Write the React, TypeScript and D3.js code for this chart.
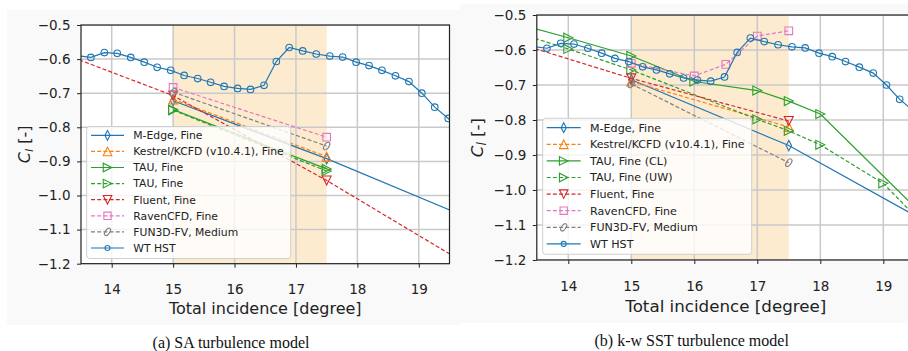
import { useRef, useEffect } from 'react';
import * as d3 from 'd3';

// wind tunnel (same measurement on both panels)
const wtAlpha = [13.38, 13.66, 13.88, 14.09, 14.31, 14.53, 14.74, 14.96, 15.18, 15.4, 15.61, 15.83, 16.05, 16.26, 16.48, 16.68, 16.89, 17.11, 17.33, 17.55, 17.76, 17.98, 18.19, 18.4, 18.62, 18.84, 19.05, 19.26, 19.48, 19.7];
const wtCl = [-0.589, -0.595, -0.581, -0.583, -0.595, -0.609, -0.624, -0.633, -0.648, -0.657, -0.668, -0.68, -0.686, -0.689, -0.677, -0.607, -0.566, -0.576, -0.585, -0.591, -0.594, -0.609, -0.619, -0.633, -0.649, -0.666, -0.7, -0.741, -0.774, -0.81];

const twoAlpha = [15, 17.5];
const threeAlpha = [15, 17.5, 20];

// (a) SA
const saMEdge = [-0.722, -0.892, -1.08];
const saKestrel = [-0.718, -0.886];
const saTau = [-0.748, -0.922];
const saTauB = [-0.75, -0.928];
const saFluentAlpha = [13, 15, 17.5, 20];
const saFluent = [-0.57, -0.707, -0.956, -1.225];
const saRaven = [-0.683, -0.829];
const saFun3d = [-0.697, -0.855];

// (b) k-w SST
const sstMEdge = [-0.685, -0.873, -1.123];
const sstKestrel = [-0.69, -0.82];
const sstTauClAlpha = [13, 14, 15, 16, 17, 17.5, 18, 20];
const sstTauCl = [-0.515, -0.565, -0.617, -0.69, -0.716, -0.746, -0.783, -1.137];
const sstTauUwAlpha = [13, 14, 15, 17, 17.5, 18, 19, 20];
const sstTauUw = [-0.54, -0.597, -0.657, -0.798, -0.831, -0.871, -0.981, -1.166];
const sstFluentAlpha = [13, 15, 17.5];
const sstFluent = [-0.57, -0.681, -0.803];
const sstRavenAlpha = [15, 16, 16.5, 17, 17.5];
const sstRaven = [-0.638, -0.674, -0.641, -0.56, -0.545];
const sstFun3d = [-0.697, -0.922];

const xTicks = [14, 15, 16, 17, 18, 19];
const yTicks = [-1.2, -1.1, -1.0, -0.9, -0.8, -0.7, -0.6, -0.5];

const C = { blue: '#1f77b4', orange: '#ff7f0e', green: '#2ca02c', red: '#d62728', pink: '#e377c2', gray: '#7f7f7f' };
const DASH = '4,2.2';

const zip = (xs, ys) => xs.map((a, i) => ({ a, cl: ys[i] }));

const saSeries = [
  { label: 'M-Edge, Fine', color: C.blue, dash: null, mk: 'd', data: zip(threeAlpha, saMEdge) },
  { label: 'Kestrel/KCFD (v10.4.1), Fine', color: C.orange, dash: DASH, mk: '^', data: zip(twoAlpha, saKestrel) },
  { label: 'TAU, Fine', color: C.green, dash: null, mk: '>', data: zip(twoAlpha, saTau) },
  { label: 'TAU, Fine', color: C.green, dash: DASH, mk: '>', data: zip(twoAlpha, saTauB) },
  { label: 'Fluent, Fine', color: C.red, dash: DASH, mk: 'v', data: zip(saFluentAlpha, saFluent) },
  { label: 'RavenCFD, Fine', color: C.pink, dash: DASH, mk: 's', data: zip(twoAlpha, saRaven) },
  { label: 'FUN3D-FV, Medium', color: C.gray, dash: DASH, mk: 'f', data: zip(twoAlpha, saFun3d) },
  { label: 'WT HST', color: C.blue, dash: null, mk: 'o', data: zip(wtAlpha, wtCl) },
];

const sstSeries = [
  { label: 'M-Edge, Fine', color: C.blue, dash: null, mk: 'd', data: zip(threeAlpha, sstMEdge) },
  { label: 'Kestrel/KCFD (v10.4.1), Fine', color: C.orange, dash: DASH, mk: '^', data: zip(twoAlpha, sstKestrel) },
  { label: 'TAU, Fine (CL)', color: C.green, dash: null, mk: '>', data: zip(sstTauClAlpha, sstTauCl) },
  { label: 'TAU, Fine (UW)', color: C.green, dash: DASH, mk: '>', data: zip(sstTauUwAlpha, sstTauUw) },
  { label: 'Fluent, Fine', color: C.red, dash: DASH, mk: 'v', data: zip(sstFluentAlpha, sstFluent) },
  { label: 'RavenCFD, Fine', color: C.pink, dash: DASH, mk: 's', data: zip(sstRavenAlpha, sstRaven) },
  { label: 'FUN3D-FV, Medium', color: C.gray, dash: DASH, mk: 'f', data: zip(twoAlpha, sstFun3d) },
  { label: 'WT HST', color: C.blue, dash: null, mk: 'o', data: zip(wtAlpha, wtCl) },
];

function markerPath(kind, s = 1) {
  const r = 4.5 * s;
  switch (kind) {
    case 'd': return `M0,${-r * 1.15}L${r * 0.6},0L0,${r * 1.15}L${-r * 0.6},0Z`;
    case '^': return `M0,${-r}L${r},${r}L${-r},${r}Z`;
    case 'v': return `M0,${r}L${r},${-r}L${-r},${-r}Z`;
    case '>': return `M${r},0L${-r},${-r}L${-r},${r}Z`;
    case 's': return `M${-r * 0.85},${-r * 0.85}h${r * 1.7}v${r * 1.7}h${-r * 1.7}Z`;
    default: return '';
  }
}

function addMarker(sel, kind, color, cx, cy, s = 1) {
  if (kind === 'o') {
    sel.append('circle').attr('cx', cx).attr('cy', cy).attr('r', 3.3 * s)
      .attr('fill', 'none').attr('stroke', color).attr('stroke-width', 1.1);
  } else if (kind === 'f') {
    sel.append('ellipse').attr('rx', 2.3 * s).attr('ry', 4.4 * s)
      .attr('transform', `translate(${cx},${cy}) rotate(35)`)
      .attr('fill', 'none').attr('stroke', color).attr('stroke-width', 1.1);
  } else {
    sel.append('path').attr('d', markerPath(kind, s)).attr('transform', `translate(${cx},${cy})`)
      .attr('fill', 'none').attr('stroke', color).attr('stroke-width', 1.1);
  }
}

const fmt = v => (v < 0 ? '\u2212' : '') + Math.abs(v).toFixed(1);

function drawPanel(svg, p) {
  const x = d3.scaleLinear().domain([13.5, 19.5]).range([p.left, p.right]);
  const y = d3.scaleLinear().domain([-1.2, -0.5]).range([p.bottom, p.top]);
  const iw = p.right - p.left;
  const ih = p.bottom - p.top;

  svg.append('rect').attr('x', p.bg[0]).attr('y', p.bg[1]).attr('width', p.bg[2]).attr('height', p.bg[3]).attr('fill', '#f9f9f9');
  svg.append('rect').attr('x', p.left).attr('y', p.top).attr('width', iw).attr('height', ih).attr('fill', '#fff');

  const clipId = 'clip-' + p.id;
  svg.append('clipPath').attr('id', clipId)
    .append('rect').attr('x', p.left).attr('y', p.top).attr('width', iw).attr('height', ih);
  const plot = svg.append('g').attr('clip-path', `url(#${clipId})`);

  // shaded band 15..17.5
  plot.append('rect').attr('x', x(15)).attr('y', p.top).attr('width', x(17.5) - x(15)).attr('height', ih)
    .attr('fill', '#fdebcf');

  // grid
  xTicks.forEach(t => plot.append('line').attr('x1', x(t)).attr('x2', x(t)).attr('y1', p.top).attr('y2', p.bottom)
    .attr('stroke', '#c9c9c9').attr('stroke-width', 1.5));
  yTicks.forEach(t => plot.append('line').attr('x1', p.left).attr('x2', p.right).attr('y1', y(t)).attr('y2', y(t))
    .attr('stroke', '#c9c9c9').attr('stroke-width', 1.5));

  const line = d3.line().x(d => x(d.a)).y(d => y(d.cl));
  p.series.forEach(s => {
    plot.append('path').datum(s.data).attr('d', line).attr('fill', 'none')
      .attr('stroke', s.color).attr('stroke-width', 1.2).attr('stroke-dasharray', s.dash);
    s.data.forEach(d => addMarker(plot, s.mk, s.color, x(d.a), y(d.cl)));
  });

  // axes
  const ax = svg.append('g').attr('transform', `translate(0,${p.bottom})`)
    .call(d3.axisBottom(x).tickValues(xTicks).tickFormat(d3.format('d')).tickSize(4).tickPadding(p.xPad).tickSizeOuter(0));
  const ay = svg.append('g').attr('transform', `translate(${p.left},0)`)
    .call(d3.axisLeft(y).tickValues(yTicks).tickFormat(fmt).tickSize(4).tickPadding(6.5).tickSizeOuter(0));
  [ax, ay].forEach(a => {
    a.select('.domain').remove();
    a.selectAll('line').attr('stroke', '#222').attr('stroke-width', 1);
    a.selectAll('text').attr('fill', '#222').style('font-size', p.tickFs + 'px').style('font-family', 'DejaVu Sans');
  });
  svg.append('rect').attr('x', p.left).attr('y', p.top).attr('width', iw).attr('height', ih)
    .attr('fill', 'none').attr('stroke', '#222').attr('stroke-width', 1.2);

  svg.append('text').attr('x', (p.left + p.right) / 2).attr('y', p.xLabY).attr('text-anchor', 'middle')
    .style('font-family', 'DejaVu Sans').style('font-size', p.labFs + 'px').attr('fill', '#222')
    .text('Total incidence [degree]');

  const yl = svg.append('text').attr('transform', `translate(${p.yLabX},${(p.top + p.bottom) / 2}) rotate(-90)`)
    .attr('text-anchor', 'middle').style('font-family', 'DejaVu Sans').style('font-size', p.labFs + 'px').attr('fill', '#222');
  yl.append('tspan').style('font-style', 'italic').text('C');
  yl.append('tspan').style('font-style', 'italic').style('font-size', (p.labFs * 0.7) + 'px').attr('dy', 3).text('l');
  yl.append('tspan').attr('dy', -3).text(' [-]');

  // legend
  const lg = svg.append('g');
  lg.append('rect').attr('x', p.leg.x).attr('y', p.leg.y).attr('width', p.leg.w).attr('height', p.leg.h)
    .attr('rx', 3).attr('fill', '#fff').attr('fill-opacity', 0.8).attr('stroke', '#cfcfcf').attr('stroke-width', 1);
  p.series.forEach((s, i) => {
    const cy = p.leg.y0 + i * p.leg.dy;
    lg.append('line').attr('x1', p.leg.h0).attr('x2', p.leg.h1).attr('y1', cy).attr('y2', cy)
      .attr('stroke', s.color).attr('stroke-width', 1.2).attr('stroke-dasharray', s.dash);
    addMarker(lg, s.mk, s.color, (p.leg.h0 + p.leg.h1) / 2, cy, s.mk === 'o' ? 0.75 : 0.95);
    lg.append('text').attr('x', p.leg.tx).attr('y', cy).attr('dy', '0.36em')
      .style('font-family', 'DejaVu Sans').style('font-size', p.leg.fs + 'px').attr('fill', '#222').text(s.label);
  });

  svg.append('text').attr('x', p.capX).attr('y', p.capY).attr('text-anchor', 'middle')
    .style('font-family', 'Liberation Serif').style('font-size', '16px').attr('fill', '#111').text(p.caption);
}

export default function App() {
  const ref = useRef(null);

  useEffect(() => {
    const svg = d3.select(ref.current);
    svg.selectAll('*').remove();
    drawPanel(svg, {
      id: 'sa', left: 81, right: 449.5, top: 25, bottom: 263.7, bg: [7, 10, 453, 315],
      series: saSeries, xPad: 17, tickFs: 13.5, labFs: 16, xLabY: 314, yLabX: 30,
      leg: { x: 86.7, y: 126.5, w: 204, h: 132, y0: 135.3, dy: 16.1, h0: 91, h1: 124, tx: 133.3, fs: 10.8 },
      caption: '(a) SA turbulence model', capX: 231, capY: 347.7,
    });
    drawPanel(svg, {
      id: 'sst', left: 536.8, right: 914.8, top: 15, bottom: 260, bg: [460, 4, 448, 319],
      series: sstSeries, xPad: 17.5, tickFs: 13.5, labFs: 16.7, xLabY: 311.7, yLabX: 483,
      leg: { x: 542.7, y: 118.3, w: 209, h: 136, y0: 127.7, dy: 16.6, h0: 546.7, h1: 580.7, tx: 590, fs: 11.1 },
      caption: '(b) k-w SST turbulence model', capX: 691.7, capY: 345.5,
    });
  }, []);

  return (
    <svg ref={ref} width={908} height={351}
      style={{ position: 'absolute', left: 0, top: 0, background: '#fff' }} />
  );
}
